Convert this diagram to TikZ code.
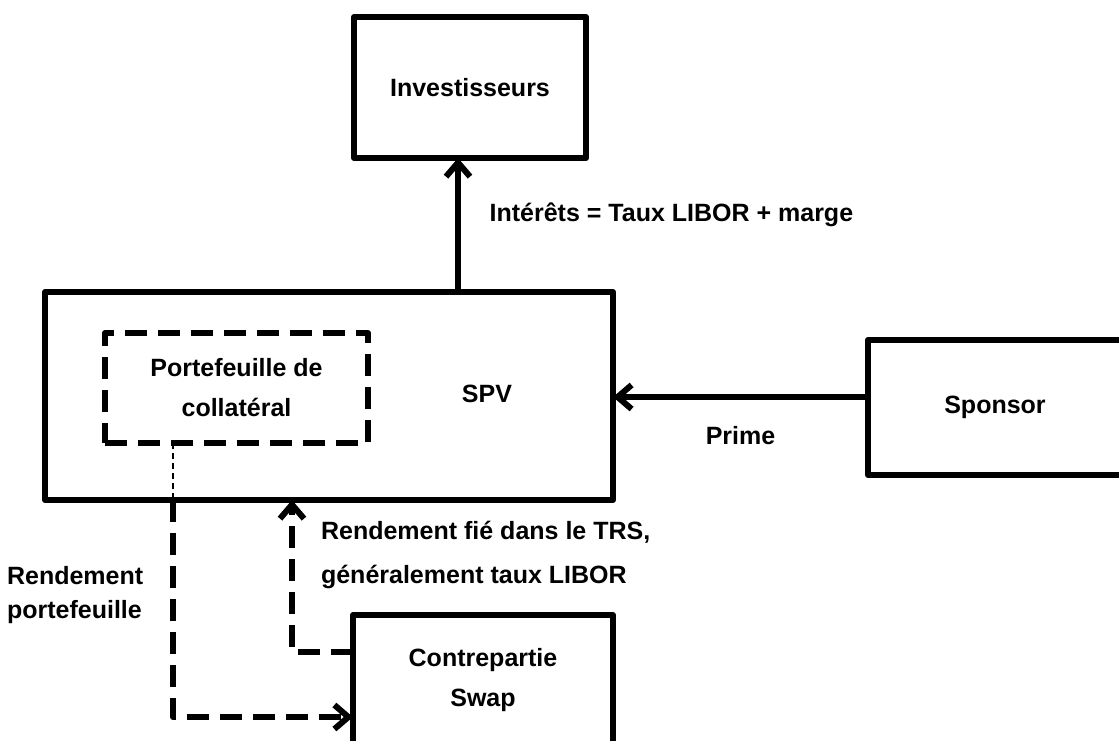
\documentclass[tikz,border=0pt]{standalone}
\usepackage{fontspec}
\setmainfont{Liberation Sans}
\usetikzlibrary{arrows.meta,positioning}

\begin{document}
\begin{tikzpicture}[x=0.5pt,y=-0.5pt,>={Straight Barb[length=7pt,width=12pt]},line join=round,
    every node/.style={font=\bfseries\fontsize{12.5}{15}\selectfont}]
  \tikzstyle{box}=[rectangle,draw,line width=3pt,inner sep=0pt,outer sep=0pt]
  \tikzstyle{flow}=[line width=3pt]
  \tikzstyle{tiret}=[line width=3pt,dash pattern=on 11pt off 5.5pt]
  \tikzstyle{fin}=[line width=1.3pt,dash pattern=on 3pt off 2pt]

  \useasboundingbox (0,0) rectangle (1119,740);

    \node [box,minimum width=116pt,minimum height=70.5pt] (invest) at (470,87.5) {Investisseurs};
    \node [box,minimum width=284pt,minimum height=104pt] (spv) at (329,396) {};
    \node (spvnom) at (487,394) {SPV};
    \node [box,tiret,minimum width=131.5pt,minimum height=55pt,align=center,
        font=\bfseries\fontsize{12.5}{20}\selectfont] (coll) at (236.5,388) {Portefeuille de\\collatéral};
    \node [box,minimum width=127pt,minimum height=67.5pt] (sponsor) at (995,407.5) {Sponsor};
    \node [box,minimum width=130pt,minimum height=65pt,align=center,
        font=\bfseries\fontsize{12.5}{20}\selectfont] (swap) at (483,680) {Contrepartie\\Swap};

    % flux
    \draw[flow,->] ([xshift=-6pt]invest.south |- spv.north) -- node[pos=0.575,right=11pt] {Intérêts = Taux LIBOR + marge} ([xshift=-6pt]invest.south);
    \draw[flow,->] ([yshift=5.25pt]sponsor.west) -- node[midway,below=10pt] {Prime} ([yshift=5.25pt]sponsor.west -| spv.east);

    \coordinate (fixin) at (spv.south -| 292,0);
    \draw[tiret,->] ([yshift=14pt]swap.west) -| (fixin);
    \node [anchor=west,align=left,font=\bfseries\fontsize{12.5}{22}\selectfont] (fixlbl) at (314,555)
        {Rendement fié dans le TRS,\\généralement taux LIBOR};

    \coordinate (pfout) at ([xshift=-31.75pt]coll.south);
    \coordinate (pfsort) at (pfout |- spv.south);
    \draw[fin] (pfout) -- (pfsort);
    \draw[tiret,->] (pfsort) |- ([yshift=-18.5pt]swap.west);
    \node [anchor=west,align=left,font=\bfseries\fontsize{12.5}{17}\selectfont] (pflbl) at (0,595)
        {Rendement\\portefeuille};
\end{tikzpicture}
\end{document}
